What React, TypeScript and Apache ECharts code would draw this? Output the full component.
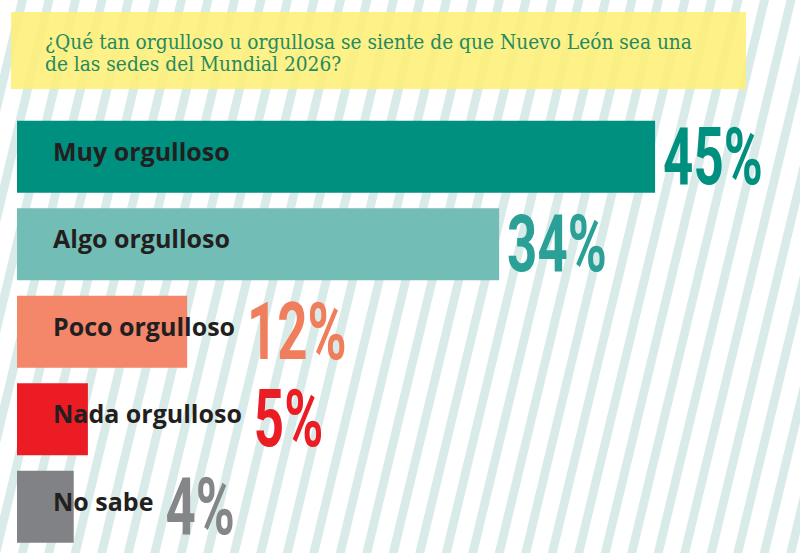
import React, { useEffect, useRef } from "react";
import * as echarts from "echarts";

// Survey answers and their shares (%)
const categories = ["Muy orgulloso", "Algo orgulloso", "Poco orgulloso", "Nada orgulloso", "No sabe"];
const values = [45, 34, 12, 5, 4];
const barColors = ["#00907f", "#73bdb7", "#f4866a", "#ec1c24", "#808285"];
const valueColors = ["#00907f", "#2aa096", "#f07d5b", "#ec1c24", "#858689"];

const titleLines = [
  "¿Qué tan orgulloso u orgullosa se siente de que Nuevo León sea una",
  "de las sedes del Mundial 2026?",
];

const W = 800;
const H = 553;
const GRID_LEFT = 17;
const LABEL_SIZE = 25;
const LABEL_FONT = `bold ${LABEL_SIZE}px "Open Sans"`;
const LABEL_DIST = 36;

function measure(text: string, font: string): number {
  const c = document.createElement("canvas");
  const ctx = c.getContext("2d");
  if (!ctx) return text.length * 12;
  ctx.font = font;
  return ctx.measureText(text).width;
}

// Diagonal background stripes
function stripes() {
  const out: any[] = [];
  const slope = 0.24;
  const spacing = 26.5;
  const sw = 9;
  const drop = slope * H;
  for (let x0 = 18 - spacing * 2; x0 < W + drop + spacing; x0 += spacing) {
    out.push({
      type: "polygon",
      z: -10,
      silent: true,
      shape: {
        points: [
          [x0, 0],
          [x0 + sw, 0],
          [x0 + sw - drop, H],
          [x0 - drop, H],
        ],
      },
      style: { fill: "#d9ebe9" },
    });
  }
  return out;
}

export default function App() {
  const ref = useRef<HTMLDivElement>(null);

  useEffect(() => {
    if (!ref.current) return;
    const chart = echarts.init(ref.current, null, { renderer: "svg" });
    const textEnds = categories.map(
      (c) => GRID_LEFT + LABEL_DIST + measure(c, LABEL_FONT)
    );

    chart.setOption({
      animation: false,
      backgroundColor: "#ffffff",
      grid: { left: GRID_LEFT, top: 113, width: 709, height: 437.5 },
      xAxis: { type: "value", min: 0, max: 50, show: false },
      yAxis: {
        type: "category",
        data: categories,
        inverse: true,
        show: false,
      },
      graphic: [
        ...stripes(),
        {
          type: "rect",
          z: 1,
          silent: true,
          shape: { x: 11, y: 12, width: 735, height: 77 },
          style: { fill: "#fdf07a", opacity: 0.9 },
        },
        {
          type: "text",
          z: 2,
          left: 45,
          top: 31,
          silent: true,
          style: {
            text: titleLines.join("\n"),
            fontFamily: '"DejaVu Serif Condensed", "DejaVu Serif", serif',
            fontSize: 20.7,
            lineHeight: 22,
            fill: "#248a60",
          },
        },
      ],
      series: [
        {
          type: "bar",
          data: values.map((v, i) => ({ value: v, itemStyle: { color: barColors[i] } })),
          barCategoryGap: "17.7%",
          label: {
            show: true,
            position: "insideLeft",
            distance: LABEL_DIST,
            offset: [0, -6],
            formatter: "{b}",
            fontFamily: '"Open Sans"',
            fontWeight: "bold",
            fontSize: LABEL_SIZE,
            color: "#231f20",
          },
          silent: true,
        },
        {
          type: "custom",
          data: values.map((v, i) => [v, i]),
          encode: { x: 0, y: 1 },
          z: 5,
          renderItem: (params: any, api: any) => {
            const i = params.dataIndex;
            const p = api.coord([api.value(0), api.value(1)]);
            const x = Math.max(p[0] + 8, textEnds[i] + 12);
            return {
              type: "text",
              x,
              y: p[1],
              scaleX: 0.66,
              style: {
                text: values[i] + "%",
                fontFamily: "Roboto",
                fontWeight: "bold",
                fontSize: 80,
                fill: valueColors[i],
                align: "left",
                verticalAlign: "middle",
              },
            };
          },
          silent: true,
        },
      ],
    });
    return () => chart.dispose();
  }, []);

  return (
    <div
      ref={ref}
      style={{ position: "fixed", left: 0, top: 0, width: W, height: H }}
    />
  );
}
